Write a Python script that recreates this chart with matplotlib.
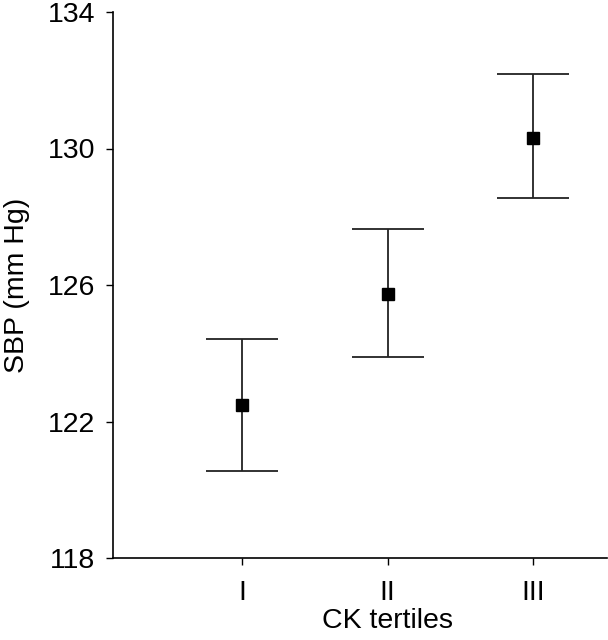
import matplotlib
matplotlib.use("Agg")
import matplotlib.pyplot as plt

categories = ["I", "II", "III"]
means = [122.48, 125.75, 130.32]
upper = [124.43, 127.63, 132.18]
lower = [120.55, 123.90, 128.54]
yticks = [118, 122, 126, 130, 134]

plt.rcParams['font.family'] = ['Liberation Sans', 'DejaVu Sans']

fig = plt.figure(figsize=(6.08, 6.40), dpi=100)
ax = fig.add_axes([113/608, 1 - 558/640, (607-113)/608, (558-12)/640])

x = [1, 2, 3]
yerr = [[m - l for m, l in zip(means, lower)], [u - m for m, u in zip(means, upper)]]
ax.errorbar(x, means, yerr=yerr, fmt='s', color='black', ecolor='#222222',
            markersize=8, elinewidth=1.3, capsize=26, capthick=1.3)

ax.set_xlim(0.11, 3.51)
ax.set_ylim(118, 134)
ax.set_yticks(yticks)
ax.set_xticks(x)
ax.set_xticklabels(categories)
for s in ['top', 'right']:
    ax.spines[s].set_visible(False)
for s in ['left', 'bottom']:
    ax.spines[s].set_linewidth(1.2)
ax.tick_params(axis='both', direction='out', length=5, width=1.0, labelsize=20.5)
ax.tick_params(axis='y', pad=8)
ax.tick_params(axis='x', pad=10.5)

ax.set_ylabel("SBP (mm Hg)", fontsize=20.5)
ax.yaxis.set_label_coords(-0.168, 0.5)
ax.set_xlabel("CK tertiles", fontsize=20.5)
ax.xaxis.set_label_coords((2 - 0.11) / 3.4, -0.092)

fig.savefig("out.png", dpi=100)
